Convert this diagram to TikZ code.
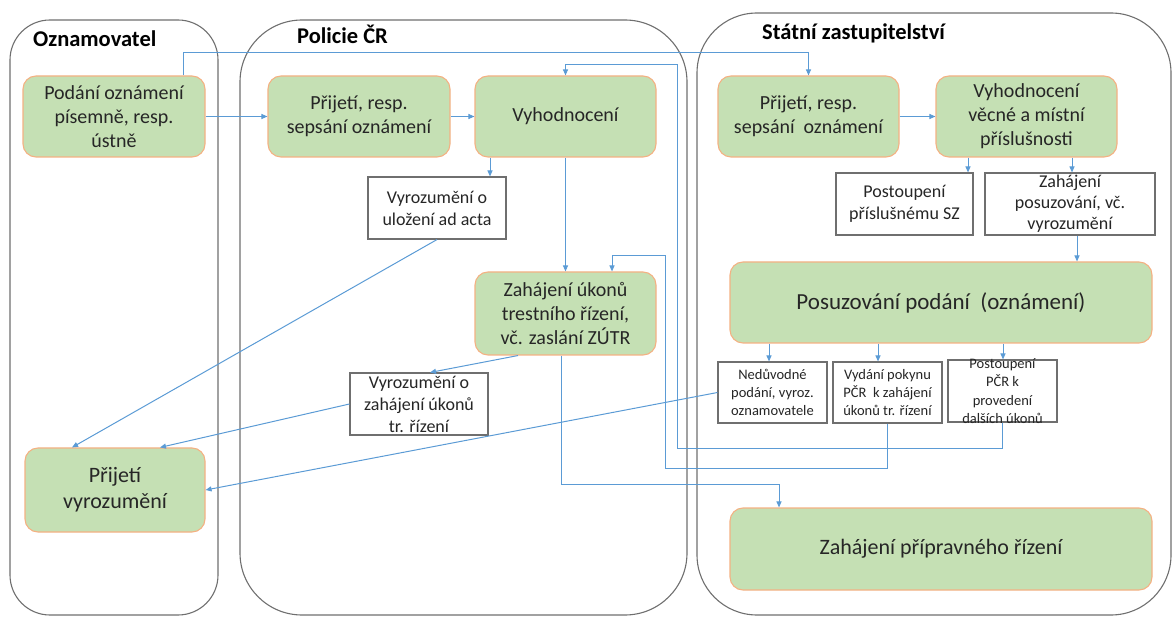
\documentclass[tikz,border=0pt]{standalone}
\usepackage{fontspec}
\setmainfont{Carlito}
\usetikzlibrary{arrows.meta}

\definecolor{boxgreen}{HTML}{C5E0B4}
\definecolor{boxedge}{HTML}{F4B183}
\definecolor{lanegray}{HTML}{6F6F6F}
\definecolor{linkblue}{HTML}{5B9BD5}
\definecolor{txtgray}{HTML}{262626}

\tikzset{
  lane/.style={draw=lanegray, line width=1.1pt},
  lanetitle/.style={anchor=base west, inner sep=0pt, font=\fontsize{22.5}{27}\selectfont\bfseries},
  greenbox/.style={draw=boxedge, fill=boxgreen, line width=1.1pt, rounded corners=13pt,
    align=center, text=txtgray, inner sep=2pt, font=\fontsize{20}{24}\selectfont},
  notebox/.style={draw=lanegray, fill=white, line width=1.1pt, align=center, text=txtgray,
    inner sep=0pt, font=\fontsize{18}{22}\selectfont},
  smallbox/.style={notebox, font=\fontsize{14.5}{18}\selectfont},
  conn/.style={draw=linkblue, line width=1pt, -{Triangle[length=6pt,width=5pt]}},
}

\begin{document}
\begin{tikzpicture}[x=1pt, y=-1pt]

  %% ════ lanes ════
  \draw[lane, rounded corners=40pt] (10,20) rectangle (218,615);
  \draw[lane, rounded corners=62pt] (240,20) rectangle (687,615);
  \draw[lane, rounded corners=60pt] (697,13) rectangle (1171,615);

  \node[lanetitle] (tozn) at (33,47) {Oznamovatel};
  \node[lanetitle] (tpcr) at (297,44) {Policie ČR};
  \node[lanetitle] (tsz)  at (762,40) {Státní zastupitelství};

  %% ════ green steps ════
  \node[greenbox, minimum width=182pt, minimum height=81pt] (podani) at (114,116.5) {Podání oznámení\\písemně, resp.\\ústně};
  \node[greenbox, minimum width=182pt, minimum height=81pt] (prijeti) at (359,116.5) {Přijetí, resp.\\sepsání oznámení};
  \node[greenbox, minimum width=181pt, minimum height=81pt] (vyhod) at (565.5,116.5) {Vyhodnocení};
  \node[greenbox, minimum width=181pt, minimum height=81pt] (szprijeti) at (808.5,116.5) {Přijetí, resp.\\sepsání\ \ oznámení};
  \node[greenbox, minimum width=181pt, minimum height=81pt] (szvyhod) at (1026.5,116.5) {Vyhodnocení\\věcné a místní\\příslušnosti};
  \node[greenbox, minimum width=181pt, minimum height=83pt] (zahukonu) at (565.5,313.5) {Zahájení úkonů\\trestního řízení,\\vč. zaslání ZÚTR};
  \node[greenbox, minimum width=422pt, minimum height=81pt, font=\fontsize{23}{27}\selectfont] (posuz) at (941,302.5) {Posuzování podání\ \ (oznámení)};
  \node[greenbox, minimum width=180pt, minimum height=84pt, font=\fontsize{22}{26}\selectfont] (prijvyroz) at (115,490) {Přijetí\\vyrozumění};
  \node[greenbox, minimum width=422pt, minimum height=82pt, font=\fontsize{22}{26}\selectfont] (pripr) at (941,549) {Zahájení přípravného řízení};

  %% ════ white notes ════
  \node[notebox, minimum width=138pt, minimum height=62pt] (adacta) at (437,208) {Vyrozumění o\\uložení ad acta};
  \node[notebox, minimum width=137pt, minimum height=62pt] (postsz) at (904.5,204) {Postoupení\\příslušnému SZ};
  \node[notebox, minimum width=170pt, minimum height=62pt, font=\fontsize{18}{21}\selectfont] (zahpos) at (1070,204) {Zahájení\\posuzování, vč.\\vyrozumění};
  \node[notebox, minimum width=138pt, minimum height=62pt] (vyrzah) at (419,404) {Vyrozumění o\\zahájení úkonů\\tr. řízení};
  \node[smallbox, minimum width=109pt, minimum height=61pt] (nedu) at (772.5,392.5) {Nedůvodné\\podání, vyroz.\\oznamovatele};
  \node[smallbox, minimum width=109pt, minimum height=61pt] (vydani) at (887.5,392.5) {Vydání pokynu\\PČR\ \ k zahájení\\úkonů tr. řízení};
  \node[smallbox, minimum width=109pt, minimum height=62pt] (postpcr) at (1002.5,391) {};
  \node[smallbox, draw=none, fill=none, font=\fontsize{14.5}{18.5}\selectfont] (postpcrtxt) at (postpcr) {Postoupení\\PČR k\\provedení\\dalších úkonů};

  %% ════ return points ════
  \coordinate (backvyh) at (677,65);
  \coordinate (backzah) at (665,256);

  %% ════ connectors ════
  \draw[conn] (podani) -- (prijeti);
  \draw[conn] (prijeti) -- (vyhod);
  \draw[conn] (szprijeti) -- (szvyhod);
  \draw[conn] ([xshift=69pt]podani.north) -- ++(0,-23) -| (szprijeti.north);

  \draw[conn] ([xshift=-75.5pt]vyhod.south) -- ([xshift=-75.5pt]vyhod.south |- adacta.north);
  \draw[conn] (vyhod) -- (zahukonu);
  \draw[conn] ([xshift=-47.5pt]zahukonu.south) -- ([xshift=11pt]vyrzah.north);
  \draw[conn] ([xshift=-4.5pt]zahukonu.south) -- ++(0,129) -| ([xshift=-162pt]pripr.north);

  \draw[conn] (adacta.south) -- ([xshift=-43pt]prijvyroz.north);
  \draw[conn] (vyrzah.west) -- ([xshift=45pt]prijvyroz.north);
  \draw[conn] (nedu.west) -- (prijvyroz.east);

  \draw[conn] ([xshift=-58.5pt]szvyhod.south) -- ([xshift=-58.5pt]szvyhod.south |- postsz.north);
  \draw[conn] ([xshift=45.5pt]szvyhod.south) -- ([xshift=45.5pt]szvyhod.south |- zahpos.north);
  \draw[conn] ([xshift=7pt]zahpos.south) -- ([xshift=7pt]zahpos.south |- posuz.north);

  \draw[conn] ([xshift=-172pt]posuz.south) -- ([xshift=-172pt]posuz.south |- nedu.north);
  \draw[conn] ([xshift=-63pt]posuz.south) -- ([xshift=-63pt]posuz.south |- vydani.north);
  \draw[conn] ([xshift=62pt]posuz.south) -- ([xshift=62pt]posuz.south |- postpcr.north);

  \draw[conn] (postpcr.south) -- ++(0,26) -| (backvyh) -| (vyhod.north);
  \draw[conn] (vydani.south) -- ++(0,45) -| (backzah) -| ([xshift=46.5pt]zahukonu.north);

  \pgfresetboundingbox
  \path[use as bounding box] (0,0) rectangle (1173,617);
\end{tikzpicture}
\end{document}
